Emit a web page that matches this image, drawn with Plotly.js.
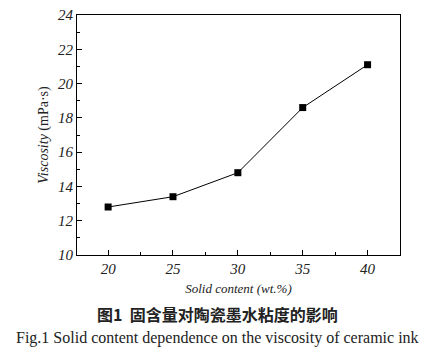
<!DOCTYPE html>
<html><head><meta charset="utf-8">
<script src="https://cdn.plot.ly/plotly-3.0.1.min.js"></script>
<style>body{margin:0;background:#fff}#c{width:438px;height:352px}</style>
</head><body><div id="c"></div>
<script>
const solidContent = [20, 25, 30, 35, 40];
const viscosity = [12.8, 13.4, 14.8, 18.6, 21.1];
const xTicks = [20, 25, 30, 35, 40];
const yTicks = [10, 12, 14, 16, 18, 20, 22, 24];

const SERIF = 'Liberation Serif, Times New Roman, serif';
const data = [{
  x: solidContent, y: viscosity, type: 'scatter', mode: 'lines+markers',
  line: {color: '#000', width: 1},
  marker: {symbol: 'square', size: 7, color: '#000'},
  showlegend: false
}];
const layout = {
  width: 438, height: 352,
  font: {family: SERIF, color: '#222', size: 14},
  margin: {l: 77, r: 38, t: 15, b: 97},
  paper_bgcolor: '#fff', plot_bgcolor: '#fff',
  xaxis: {
    range: [17.6, 42.5], tickvals: xTicks, ticktext: xTicks.map(v => '<i>' + v + '</i>'),
    ticks: 'inside', ticklen: 5, tickcolor: '#000', showgrid: false, zeroline: false,
    showline: true, linecolor: '#000', linewidth: 1, mirror: true,
    minor: {ticks: 'inside', ticklen: 3, dtick: 2.5, tick0: 20, tickcolor: '#000', showgrid: false},
    tickfont: {family: SERIF, size: 15, color: '#222'},
    title: {text: '<i>Solid content (wt.%)</i>', font: {family: SERIF, size: 13, color: '#222'}, standoff: 7}
  },
  yaxis: {
    range: [10, 24], tickvals: yTicks, ticktext: yTicks.map(v => '<i>' + v + '</i>'),
    ticks: 'inside', ticklen: 5, tickcolor: '#000', showgrid: false, zeroline: false,
    showline: true, linecolor: '#000', linewidth: 1, mirror: true,
    minor: {ticks: 'inside', ticklen: 3, dtick: 1, tick0: 10, tickcolor: '#000', showgrid: false},
    tickfont: {family: SERIF, size: 15, color: '#222'},
    title: {text: '<i>Viscosity</i> (mPa·s)', font: {family: SERIF, size: 14, color: '#222'}, standoff: 6}
  },
  annotations: [
    {xref: 'paper', yref: 'paper', x: 0.435, y: -0.245, xanchor: 'center', yanchor: 'middle', showarrow: false,
     text: '<b>图1  固含量对陶瓷墨水粘度的影响</b>', font: {family: 'Noto Sans CJK SC', size: 16, color: '#222'}},
    {xref: 'paper', yref: 'paper', x: 0.435, y: -0.345, xanchor: 'center', yanchor: 'middle', showarrow: false,
     text: 'Fig.1 Solid content dependence on the viscosity of ceramic ink', font: {family: SERIF, size: 16, color: '#222'}}
  ]
};
Plotly.newPlot('c', data, layout, {displayModeBar: false, staticPlot: true});
</script></body></html>
